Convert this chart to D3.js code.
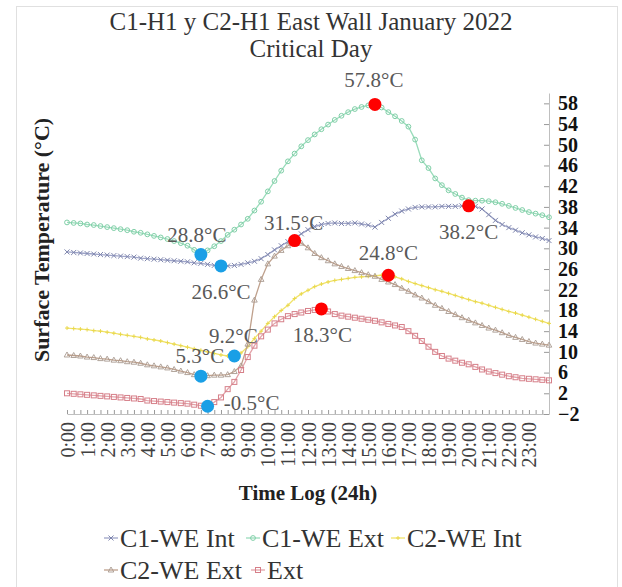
<!DOCTYPE html>
<html><head><meta charset="utf-8">
<script src="https://cdn.jsdelivr.net/npm/d3@7/dist/d3.min.js"></script>
<style>body{margin:0;background:#fff}svg{display:block}text{font-family:"Liberation Serif","Times New Roman",serif}</style>
</head><body>
<svg id="c" width="622" height="587"></svg>
<script>
// ---- data (20-minute readings, 0:00 .. 24:00) ----
const hourLabels = ["0:00","1:00","2:00","3:00","4:00","5:00","6:00","7:00","8:00","9:00","10:00","11:00",
  "12:00","13:00","14:00","15:00","16:00","17:00","18:00","19:00","20:00","21:00","22:00","23:00"];
const yTickValues = [-2,2,6,10,14,18,22,26,30,34,38,42,46,50,54,58];
const seriesNames = ["C1-WE Int","C1-WE Ext","C2-WE Int","C2-WE Ext","Ext"];

const c1WeInt = [29.3,29.2,29.1,29.0,28.9,28.8,28.7,28.6,28.5,28.4,28.3,28.1,28.0,27.9,27.8,27.7,27.6,27.5,27.4,27.2,
  27.1,26.9,26.7,26.6,26.6,26.7,26.9,27.2,27.5,28.0,28.8,29.7,30.5,31.3,32.0,32.8,33.6,34.2,34.6,34.8,
  34.9,34.8,34.8,34.9,34.7,34.5,34.1,35.0,35.8,36.6,37.2,37.6,37.9,38.0,38.0,38.0,38.1,38.1,38.1,38.2,
  38.2,38.1,37.6,36.5,35.4,34.6,34.0,33.5,33.0,32.6,32.2,31.9,31.5];
const c1WeExt = [35.0,34.9,34.8,34.6,34.5,34.3,34.1,33.9,33.7,33.5,33.2,33.0,32.7,32.4,32.1,31.8,31.4,31.0,30.5,29.7,
  28.8,29.6,30.4,31.4,32.6,33.6,34.6,35.7,37.3,39.0,41.0,43.0,45.0,46.8,48.3,49.7,50.9,52.0,53.0,53.9,
  54.8,55.6,56.3,56.9,57.3,57.6,57.8,57.2,56.3,55.5,54.6,53.5,51.0,47.0,45.5,43.5,42.2,41.2,40.5,39.8,
  39.3,39.2,39.2,39.1,38.9,38.6,38.2,37.8,37.4,37.0,36.7,36.4,36.0];
const c2WeInt = [14.6,14.5,14.4,14.3,14.1,14.0,13.8,13.6,13.4,13.2,13.0,12.8,12.5,12.3,12.1,11.8,11.5,11.2,10.9,10.6,
  10.3,10.0,9.7,9.4,9.2,9.2,9.8,11.0,12.6,14.0,15.5,16.8,18.0,19.0,20.3,21.2,21.9,22.6,23.1,23.5,
  23.8,24.0,24.2,24.4,24.5,24.6,24.7,24.8,24.8,24.5,24.1,23.6,23.2,22.8,22.4,22.0,21.7,21.3,20.9,20.5,
  20.1,19.7,19.4,19.0,18.6,18.2,17.8,17.5,17.1,16.7,16.3,15.9,15.5];
const c2WeExt = [9.4,9.3,9.2,9.0,8.9,8.7,8.6,8.4,8.3,8.1,8.0,7.8,7.5,7.3,7.1,6.9,6.6,6.3,6.0,5.6,
  5.3,5.4,5.5,5.5,5.6,6.2,7.3,11.5,20.0,24.0,27.0,28.5,29.6,30.5,31.5,31.0,30.1,29.0,28.2,27.6,
  27.0,26.5,26.1,25.7,25.3,24.9,24.6,24.0,23.5,23.0,22.3,21.7,21.0,20.4,19.7,19.0,18.4,17.8,17.2,16.6,
  16.1,15.6,15.1,14.6,14.2,13.7,13.2,12.8,12.4,12.0,11.7,11.5,11.3];
const extTemp = [2.0,1.9,1.8,1.7,1.6,1.5,1.4,1.3,1.2,1.1,1.0,0.9,0.6,0.5,0.4,0.3,0.2,0.1,0.0,-0.2,
  -0.4,-0.5,0.3,1.2,2.8,4.2,6.5,9.0,11.2,13.0,14.3,15.5,16.3,16.9,17.3,17.6,17.9,18.1,18.3,17.8,
  17.3,17.0,16.8,16.6,16.4,16.2,16.0,15.7,15.4,15.1,14.8,14.0,13.1,12.1,11.0,10.0,9.2,8.7,8.3,7.9,
  7.6,7.1,6.6,6.2,5.9,5.6,5.3,5.1,4.9,4.8,4.7,4.6,4.5];

// highlighted extremes
const markTimes  = ["6:40","7:40","6:40","8:20","7:00","11:20","15:20","16:00","12:40","20:00"];
const markValues = [28.8, 26.6, 5.3, 9.2, -0.5, 31.5, 57.8, 24.8, 18.3, 38.2];
const markKinds  = ["min","min","min","min","min","max","max","max","max","max"];

// ---- layout ----
const svg = d3.select("#c");
const stepHours = 20/60;
const x = d3.scaleLinear().domain([0,24]).range([67,549]);
const y = d3.scaleLinear().domain([-2,60]).range([414,93]);

svg.append("rect").attr("x",16.5).attr("y",6.5).attr("width",601).attr("height",600)
  .attr("fill","none").attr("stroke","#e0e0e0");

// title
svg.append("text").attr("x",311).attr("y",30).attr("text-anchor","middle")
  .attr("font-size",25).attr("fill","#333").text("C1-H1 y C2-H1 East Wall January 2022");
svg.append("text").attr("x",311).attr("y",57).attr("text-anchor","middle")
  .attr("font-size",25).attr("fill","#333").text("Critical Day");

// x axis: minor ticks every 20 min
const xMinor = svg.append("g").attr("transform",`translate(0,${y(-2)})`)
  .call(d3.axisBottom(x).tickValues(d3.range(73).map(i=>i*stepHours)).tickSizeInner(-4).tickSizeOuter(0).tickFormat(""));
xMinor.select(".domain").attr("stroke","#bfbfbf");
xMinor.selectAll(".tick line").attr("stroke","#999");

const xLab = svg.append("g").attr("transform",`translate(0,${y(-2)})`)
  .call(d3.axisBottom(x).tickValues(d3.range(24)).tickSize(0).tickFormat(d=>hourLabels[d]));
xLab.select(".domain").remove();
xLab.selectAll(".tick text").attr("transform","rotate(-90)").attr("text-anchor","end")
  .attr("x",-8).attr("y",0).attr("dy","0.35em").attr("font-size",20).attr("fill","#404040")
  .style("font-family","'Liberation Serif',serif");

svg.append("text").attr("x",308).attr("y",500).attr("text-anchor","middle")
  .attr("font-size",21).attr("font-weight","bold").attr("fill","#222").text("Time Log (24h)");

// right y axis
const yAx = svg.append("g").attr("transform",`translate(${x(24)},0)`)
  .call(d3.axisRight(y).tickValues(yTickValues).tickSizeInner(-5).tickSizeOuter(0).tickPadding(9));
yAx.select(".domain").attr("stroke","#bfbfbf");
yAx.selectAll(".tick line").attr("stroke","#999");
yAx.selectAll(".tick text").attr("font-size",20).attr("font-weight","bold").attr("fill","#111")
  .style("font-family","'Liberation Serif',serif");

svg.append("text").attr("transform",`translate(49,${240}) rotate(-90)`).attr("text-anchor","middle")
  .attr("font-size",22).attr("font-weight","bold").attr("fill","#222").text("Surface Temperature (°C)");

// series
const styles = [
  {line:"#9ea4c8", mark:"#7e85ad", shape:"x"},
  {line:"#9adcbb", mark:"#7fcfa7", shape:"circle"},
  {line:"#f1e36a", mark:"#e9d84c", shape:"plus"},
  {line:"#bfa08c", mark:"#a89a90", shape:"tri"},
  {line:"#e3a3a9", mark:"#d67f89", shape:"square"}
];
const allSeries = [c1WeInt, c1WeExt, c2WeInt, c2WeExt, extTemp];

function drawMarker(g, shape, color){
  if(shape==="x") g.append("path").attr("d","M-2.5,-2.5L2.5,2.5M-2.5,2.5L2.5,-2.5").attr("stroke",color).attr("stroke-width",1).attr("fill","none");
  else if(shape==="circle") g.append("circle").attr("r",2.4).attr("stroke",color).attr("stroke-width",1).attr("fill","none");
  else if(shape==="plus") g.append("path").attr("d","M-2,0L2,0M0,-2L0,2").attr("stroke",color).attr("stroke-width",1).attr("fill","none");
  else if(shape==="tri") g.append("path").attr("d","M0,-3L2.8,2L-2.8,2Z").attr("stroke",color).attr("stroke-width",0.9).attr("fill","none");
  else if(shape==="square") g.append("rect").attr("x",-2.5).attr("y",-2.5).attr("width",5).attr("height",5).attr("stroke",color).attr("stroke-width",1).attr("fill","none");
}

const line = d3.line().x((d,i)=>x(i*stepHours)).y(d=>y(d));
allSeries.forEach((vals,si)=>{
  const st = styles[si];
  const g = svg.append("g");
  g.append("path").attr("d",line(vals)).attr("fill","none").attr("stroke",st.line).attr("stroke-width",1.3);
  vals.forEach((v,i)=>{
    const m = g.append("g").attr("transform",`translate(${x(i*stepHours)},${y(v)})`);
    drawMarker(m, st.shape, st.mark);
  });
});

// highlight dots + labels
const labelOffsets = [[-4,-20],[0,26],[-1,-20],[-1,-20],[44,-3],[-1,-18],[-1,-24],[0,-22],[1,26],[0,26]];
const parseT = s=>{const [h,m]=s.split(":").map(Number);return h+m/60;};
markTimes.forEach((t,i)=>{
  const cx = x(parseT(t)), cy = y(markValues[i]);
  svg.append("circle").attr("cx",cx).attr("cy",cy).attr("r",6.5)
    .attr("fill", markKinds[i]==="max" ? "#ff0000" : "#1a9fe6");
  svg.append("text").attr("x",cx+labelOffsets[i][0]).attr("y",cy+labelOffsets[i][1])
    .attr("text-anchor","middle").attr("dominant-baseline","central")
    .attr("font-size",21).attr("fill","#595959").text(markValues[i].toFixed(1)+"°C");
});

// legend
const legendPos = [[104,538],[246,538],[391,538],[104,570],[251,570]];
seriesNames.forEach((name,i)=>{
  const [lx,ly] = legendPos[i];
  const g = svg.append("g").attr("transform",`translate(${lx},${ly})`);
  g.append("line").attr("x1",0).attr("x2",14).attr("y1",0).attr("y2",0).attr("stroke",styles[i].line).attr("stroke-width",1.3);
  drawMarker(g.append("g").attr("transform","translate(7,0)"), styles[i].shape, styles[i].mark);
  g.append("text").attr("x",16).attr("y",0).attr("dominant-baseline","central")
    .attr("font-size",26).attr("fill","#333").text(name);
});
</script>
</body></html>
